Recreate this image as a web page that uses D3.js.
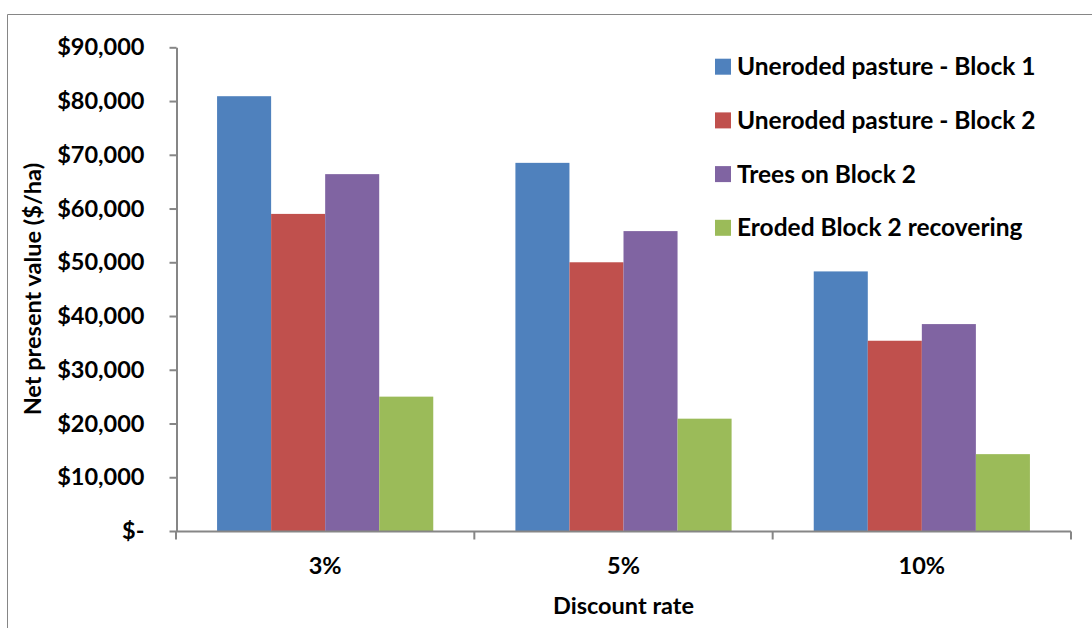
<!DOCTYPE html>
<html>
<head>
<meta charset="utf-8">
<script src="https://cdn.jsdelivr.net/npm/d3@7"></script>
<style>
  html, body { margin: 0; padding: 0; background: #fff; }
  svg { display: block; }
  text { font-family: Lato, "Open Sans", sans-serif; font-weight: bold; fill: #000; }
</style>
</head>
<body>
<svg id="chart" width="1092" height="628"></svg>
<script>
// Discount rates on the category axis
const categories = ["3%", "5%", "10%"];

// Series names and their net present values ($/ha)
const seriesNames = [
  "Uneroded pasture - Block 1",
  "Uneroded pasture - Block 2",
  "Trees on Block 2",
  "Eroded Block 2 recovering"
];
const unerodedBlock1 = [80900, 68500, 48300];
const unerodedBlock2 = [59000, 50000, 35400];
const treesBlock2 = [66400, 55800, 38500];
const erodedRecovering = [25000, 20900, 14300];
const seriesValues = [unerodedBlock1, unerodedBlock2, treesBlock2, erodedRecovering];

const seriesColors = ["#4F81BD", "#C0504D", "#8064A2", "#9BBB59"];

// Value axis ticks
const yTicks = [0, 10000, 20000, 30000, 40000, 50000, 60000, 70000, 80000, 90000];
const yTickLabels = ["$-", "$10,000", "$20,000", "$30,000", "$40,000", "$50,000",
                     "$60,000", "$70,000", "$80,000", "$90,000"];

const svg = d3.select("#chart");
const axisColor = "#868686";
const fontSize = 23.5;
const legendFontSize = 24.5;

// Outer chart border
svg.append("path")
  .attr("d", "M7.5,640 V14.5 H1100")
  .attr("fill", "none")
  .attr("stroke", axisColor)
  .attr("stroke-width", 1);

const plot = { left: 176, right: 1071, top: 47.3, bottom: 531 };

const x0 = d3.scaleBand()
  .domain(categories)
  .range([plot.left, plot.right])
  .paddingInner(0)
  .paddingOuter(0);

const x1 = d3.scaleBand()
  .domain(d3.range(seriesNames.length))
  .range([0, x0.bandwidth()])
  .paddingOuter(0.76)
  .paddingInner(0);

const y = d3.scaleLinear()
  .domain([0, 90000])
  .range([plot.bottom, plot.top]);

// Bars
const groups = svg.append("g")
  .selectAll("g")
  .data(categories)
  .join("g")
  .attr("transform", d => `translate(${x0(d)},0)`);

groups.selectAll("rect")
  .data((c, ci) => seriesValues.map((vals, si) => ({ si, v: vals[ci] })))
  .join("rect")
  .attr("x", d => x1(d.si))
  .attr("width", x1.bandwidth())
  .attr("y", d => y(d.v))
  .attr("height", d => y(0) - y(d.v))
  .attr("fill", d => seriesColors[d.si]);

// Value axis
const yAxis = svg.append("g")
  .attr("transform", `translate(${plot.left + 0.5},0)`)
  .call(d3.axisLeft(y)
    .tickValues(yTicks)
    .tickFormat((d, i) => yTickLabels[i])
    .tickSizeInner(7)
    .tickSizeOuter(0)
    .tickPadding(25));
yAxis.select(".domain").attr("stroke", axisColor).attr("stroke-width", 2);
yAxis.selectAll(".tick line").attr("stroke", axisColor).attr("stroke-width", 2);
yAxis.selectAll(".tick text")
  .attr("font-size", fontSize)
  .attr("fill", "#000")
  .style("font-family", "Lato, 'Open Sans', sans-serif")
  .style("font-weight", "bold");

// Category axis with tick marks between the groups
const xAxisG = svg.append("g").attr("transform", `translate(0,${plot.bottom + 0.5})`);
xAxisG.append("line")
  .attr("x1", plot.left).attr("x2", plot.right)
  .attr("stroke", axisColor).attr("stroke-width", 2);
const boundaries = categories.map(c => x0(c)).concat([x0(categories[categories.length - 1]) + x0.bandwidth()]);
xAxisG.selectAll("line.tick")
  .data(boundaries)
  .join("line")
  .attr("class", "tick")
  .attr("x1", d => d).attr("x2", d => d)
  .attr("y1", 0).attr("y2", 8)
  .attr("stroke", axisColor).attr("stroke-width", 2);
xAxisG.selectAll("text")
  .data(categories)
  .join("text")
  .attr("x", d => x0(d) + x0.bandwidth() / 2)
  .attr("y", 42)
  .attr("text-anchor", "middle")
  .attr("font-size", fontSize)
  .text(d => d);

// Axis titles
svg.append("text")
  .attr("x", (plot.left + plot.right) / 2)
  .attr("y", 614)
  .attr("text-anchor", "middle")
  .attr("font-size", fontSize)
  .text("Discount rate");

svg.append("text")
  .attr("transform", `translate(41,${(plot.top + plot.bottom) / 2}) rotate(-90)`)
  .attr("text-anchor", "middle")
  .attr("font-size", fontSize)
  .text("Net present value ($/ha)");

// Legend
const legend = svg.append("g").attr("transform", "translate(715,0)");
const legendRows = legend.selectAll("g")
  .data(seriesNames)
  .join("g")
  .attr("transform", (d, i) => `translate(0,${66.7 + i * 53.7})`);
legendRows.append("rect")
  .attr("x", 0).attr("y", -8)
  .attr("width", 16).attr("height", 16)
  .attr("fill", (d, i) => seriesColors[i]);
legendRows.append("text")
  .attr("x", 22)
  .attr("y", 8.5)
  .attr("font-size", legendFontSize)
  .text(d => d);
</script>
</body>
</html>
